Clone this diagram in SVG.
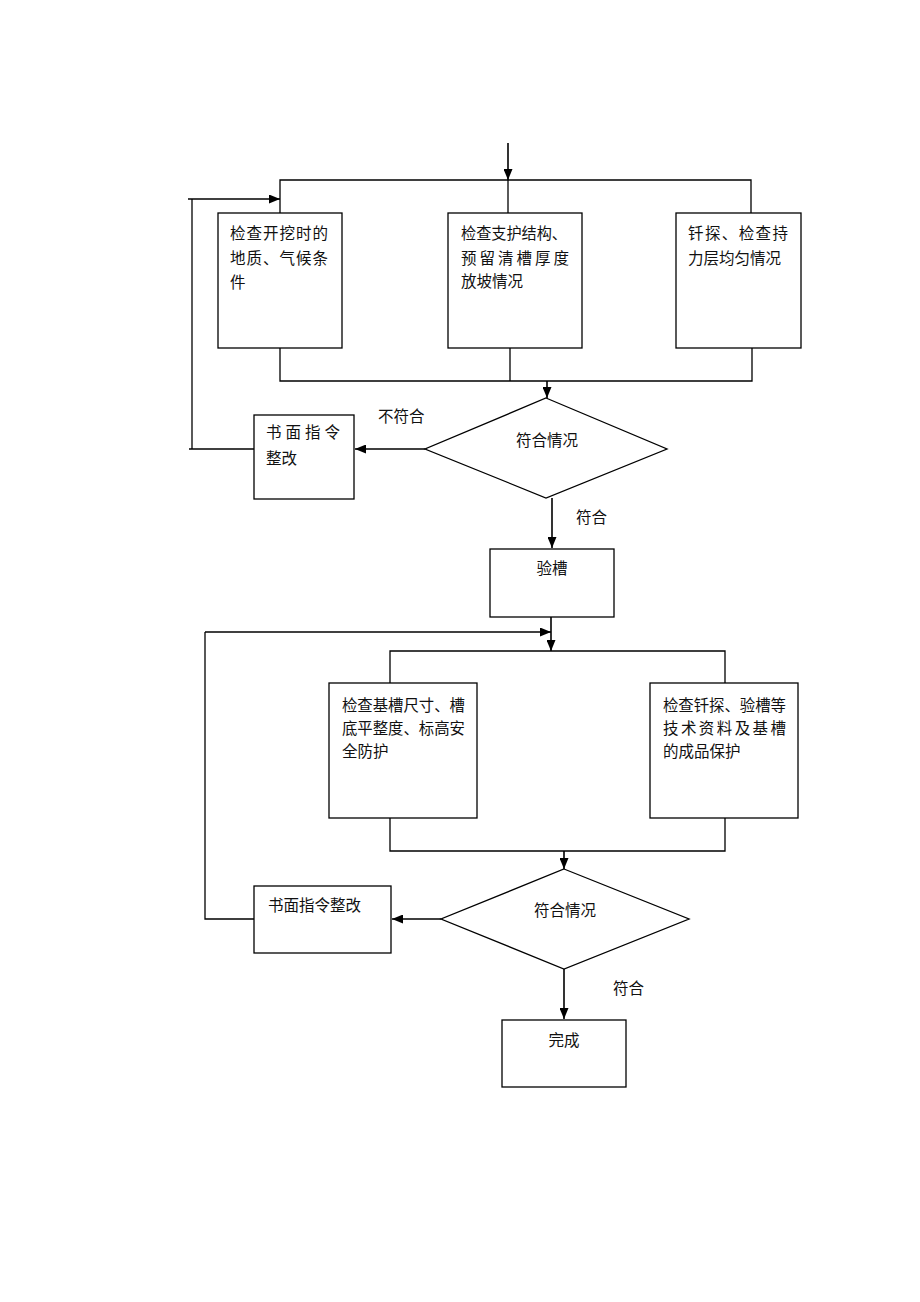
<svg xmlns="http://www.w3.org/2000/svg" width="920" height="1302" viewBox="0 0 920 1302">
<style>
.box{fill:#fff;stroke:#000;stroke-width:1.3}
.ln{fill:none;stroke:#000;stroke-width:1.3}
.ar{fill:none;stroke:#000;stroke-width:1.6;marker-end:url(#ah)}
text{font-family:"Noto Sans CJK SC","Noto Sans CJK JP",sans-serif;font-size:15.5px;fill:#111}
</style>
<defs>
<marker id="ah" markerUnits="userSpaceOnUse" markerWidth="11" markerHeight="9" refX="11" refY="4.5" orient="auto">
<path d="M0,0 L11,4.5 L0,9 z" fill="#000"/>
</marker>
</defs>
<rect width="920" height="1302" fill="#fff"/>
<g id="connectors">
<line class="ar" x1="508" y1="143" x2="508" y2="180"/>
<polyline class="ln" points="280,213 280,180 751,180 751,213"/>
<line class="ln" x1="508" y1="180" x2="508" y2="213"/>
<polyline class="ln" points="280,348 280,381 752,381 752,348"/>
<line class="ln" x1="510" y1="348" x2="510" y2="381"/>
<line class="ar" x1="547" y1="381" x2="547" y2="398"/>
<line class="ar" x1="425" y1="449" x2="355" y2="449"/>
<polyline class="ln" points="254,449 189,449"/>
<line class="ln" x1="192" y1="449" x2="192" y2="199"/>
<line class="ar" x1="188" y1="199" x2="280" y2="199"/>
<line class="ar" x1="552" y1="498" x2="552" y2="548"/>
<line class="ar" x1="551" y1="617" x2="551" y2="651"/>
<polyline class="ln" points="254,919 205,919 205,632"/>
<line class="ar" x1="205" y1="632" x2="551" y2="632"/>
<polyline class="ln" points="390,683 390,651 725,651 725,683"/>
<polyline class="ln" points="390,818 390,851 725,851 725,818"/>
<line class="ar" x1="564" y1="851" x2="564" y2="869"/>
<line class="ar" x1="441" y1="919" x2="392" y2="919"/>
<line class="ar" x1="564" y1="969" x2="564" y2="1019"/>
<text x="378" y="422">不符合</text>
<text x="576" y="523">符合</text>
<text x="613" y="994">符合</text>
</g>
<g id="n1">
<rect class="box" x="218" y="213" width="124" height="135"/>
<text x="230" y="239" textLength="98" lengthAdjust="spacing">检查开挖时的</text>
<text x="230" y="264" textLength="98" lengthAdjust="spacing">地质、气候条</text>
<text x="230" y="288">件</text>
</g>
<g id="n2">
<rect class="box" x="448" y="213" width="134" height="135"/>
<text x="461" y="239" textLength="106" lengthAdjust="spacingAndGlyphs">检查支护结构、</text>
<text x="461" y="264" textLength="108" lengthAdjust="spacing">预留清槽厚度</text>
<text x="461" y="287">放坡情况</text>
</g>
<g id="n3">
<rect class="box" x="676" y="213" width="125" height="135"/>
<text x="688" y="239" textLength="100" lengthAdjust="spacing">钎探、检查持</text>
<text x="688" y="264">力层均匀情况</text>
</g>
<g id="d1">
<polygon class="box" points="546,398 667,449 546,498 425,449"/>
<text x="547" y="446" text-anchor="middle">符合情况</text>
</g>
<g id="r1">
<rect class="box" x="254" y="415" width="100" height="84"/>
<text x="266" y="438" textLength="74" lengthAdjust="spacing">书面指令</text>
<text x="266" y="464">整改</text>
</g>
<g id="n4">
<rect class="box" x="490" y="549" width="124" height="68"/>
<text x="552" y="574" text-anchor="middle">验槽</text>
</g>
<g id="n5">
<rect class="box" x="329" y="683" width="148" height="135"/>
<text x="342" y="711" textLength="123" lengthAdjust="spacingAndGlyphs">检查基槽尺寸、槽</text>
<text x="342" y="734" textLength="123" lengthAdjust="spacingAndGlyphs">底平整度、标高安</text>
<text x="342" y="757">全防护</text>
</g>
<g id="n6">
<rect class="box" x="650" y="683" width="148" height="135"/>
<text x="663" y="711" textLength="123" lengthAdjust="spacingAndGlyphs">检查钎探、验槽等</text>
<text x="663" y="734" textLength="123" lengthAdjust="spacing">技术资料及基槽</text>
<text x="663" y="757">的成品保护</text>
</g>
<g id="d2">
<polygon class="box" points="564,869 689,919 564,969 441,919"/>
<text x="565" y="916" text-anchor="middle">符合情况</text>
</g>
<g id="r2">
<rect class="box" x="254" y="886" width="137" height="67"/>
<text x="268" y="911">书面指令整改</text>
</g>
<g id="n7">
<rect class="box" x="502" y="1020" width="124" height="67"/>
<text x="564" y="1046" text-anchor="middle">完成</text>
</g>
</svg>
